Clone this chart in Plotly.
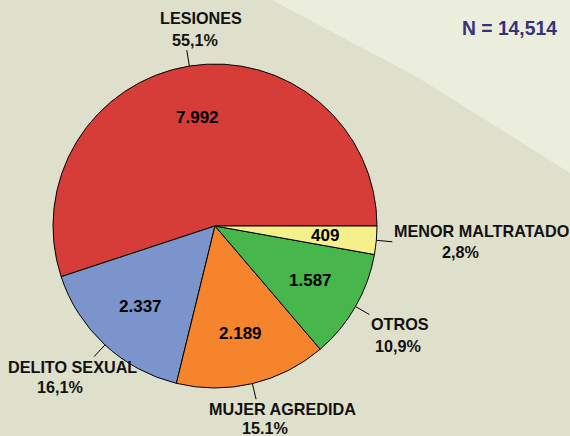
import math
import plotly.graph_objects as go

# ---------------- data ----------------
categories = ["LESIONES", "DELITO SEXUAL", "MUJER AGREDIDA", "OTROS", "MENOR MALTRATADO"]
values = [7992, 2337, 2189, 1587, 409]
pct_labels = ["55,1%", "16,1%", "15.1%", "10,9%", "2,8%"]
total_label = "N = 14,514"

# ---------------- style / layout ----------------
colors = ["#D63D38", "#7B95CC", "#F5842C", "#48B74B", "#F5F08A"]
W, H = 570, 436
CX, CY, R = 215, 226, 162          # pie centre / radius in pixels
LEADER = 16                        # leader line length (px)
VALUE_R = 0.68                     # value label radius (fraction of R)
FONT = "Liberation Sans, Arial, sans-serif"
BG_DARK = "#DFE0CB"
BG_LIGHT = "#EBEDDD"

# label text centres (px): (name line, pct line)
label_pos = [
    ((201, 18), (195, 40)),
    ((72, 367), (60, 387)),
    ((282, 409), (265, 428)),
    ((400, 324), (398, 346)),
    ((481, 231), (460, 252)),
]


def px(x):
    return x / W


def py(y):
    return 1 - y / H


value_text = [f"{v:,}".replace(",", ".") for v in values]
total = sum(values)
# first slice starts at 3 o'clock and runs counterclockwise
rotation = 90 - 360 * values[0] / total

fig = go.Figure(
    go.Pie(
        labels=categories,
        values=values,
        text=value_text,
        textinfo="none",
        sort=False,
        direction="counterclockwise",
        rotation=rotation,
        marker=dict(colors=colors, line=dict(color="black", width=1)),
        domain=dict(x=[px(CX - R), px(CX + R)], y=[py(CY + R), py(CY - R)]),
        showlegend=False,
        hoverinfo="label+value+percent",
    )
)

shapes = [
    dict(
        type="path",
        xref="paper", yref="paper",
        path=f"M {px(272)},{py(0)} L {px(417)},{py(77)} L {px(570)},{py(173)} L {px(570)},{py(0)} Z",
        fillcolor=BG_LIGHT, line=dict(width=0), layer="below",
    )
]
cum = 0
annotations = []
lab_font = dict(family=FONT, size=16.2, color="#111111", weight="bold")
for i, v in enumerate(values):
    mid = (cum + v / 2) / total * 2 * math.pi
    cum += v
    c, s = math.cos(mid), math.sin(mid)
    # leader line
    x0, y0 = CX + R * c, CY - R * s
    x1, y1 = CX + (R + LEADER) * c, CY - (R + LEADER) * s
    shapes.append(dict(type="line", xref="paper", yref="paper",
                       x0=px(x0), y0=py(y0), x1=px(x1), y1=py(y1),
                       line=dict(color="black", width=1)))
    # value inside slice
    vx, vy = CX + VALUE_R * R * c, CY - VALUE_R * R * s
    annotations.append(dict(x=px(vx), y=py(vy), xref="paper", yref="paper",
                            text=value_text[i], showarrow=False,
                            xanchor="center", yanchor="middle",
                            font=dict(family=FONT, size=17, color="black", weight="bold")))
    # outside labels
    (nx, ny), (qx, qy) = label_pos[i]
    annotations.append(dict(x=px(nx), y=py(ny), xref="paper", yref="paper",
                            text=categories[i], showarrow=False,
                            xanchor="center", yanchor="middle", font=lab_font))
    annotations.append(dict(x=px(qx), y=py(qy), xref="paper", yref="paper",
                            text=pct_labels[i], showarrow=False,
                            xanchor="center", yanchor="middle", font=lab_font))

annotations.append(dict(x=px(509), y=py(29), xref="paper", yref="paper",
                        text=total_label, showarrow=False,
                        xanchor="center", yanchor="middle",
                        font=dict(family=FONT, size=19.3, color="#35337A", weight="bold")))

fig.update_layout(
    width=W, height=H,
    margin=dict(l=0, r=0, t=0, b=0),
    paper_bgcolor=BG_DARK,
    plot_bgcolor=BG_DARK,
    shapes=shapes,
    annotations=annotations,
)

fig.write_html(
    "out.html",
    config={"displayModeBar": False},
    post_script="document.body.style.margin='0';document.body.style.overflow='hidden';",
)
